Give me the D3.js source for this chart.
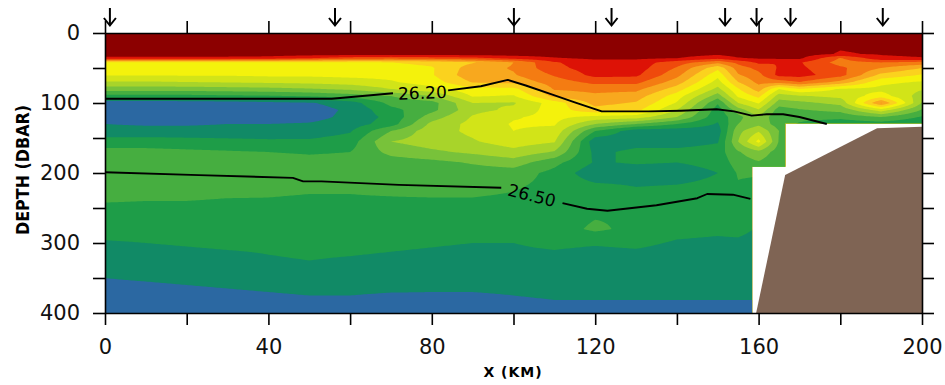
<!DOCTYPE html>
<html><head><meta charset="utf-8">
<script src="https://cdn.jsdelivr.net/npm/d3@7"></script>
<style>body{margin:0;background:#fff;} svg{display:block;}</style>
</head><body><svg id="chart" width="945" height="385"></svg>
<script>
// ---------------- data ----------------
const stationsKm = [0,10,20,30,40,50,60,70,80,90,100,110,120,130,140,150,155,160,165,170,180,190,200];
const depthLevels = [0,30,36,42,50,60,70,80,90,100,110,120,130,140,155,170,185,200,220,240,260,280,300,325,350,375,400];
// colour-class value of each station profile at depthLevels (0 = dark red ... 13 = blue)
const levelProfiles = [
 [0,0,0.8,5.8,6.0,6.4,7.6,9.0,10.8,13.2,13.4,13.3,12.5,12.2,11.0,10.2,10.0,10.0,10.0,10.45,10.9,11.1,11.6,12.0,12.5,12.9,13.1],
 [0,0,0.8,5.8,6.0,6.4,7.6,9.0,10.8,13.2,13.4,13.3,12.6,12.2,11.0,10.2,10.0,10.0,10.0,10.5,10.9,11.1,11.5,12.0,12.4,12.9,13.1],
 [0,0,0.8,5.8,6.0,6.4,7.5,9.0,10.8,13.1,13.4,13.2,12.6,12.2,11.1,10.3,10.0,10.0,10.0,10.5,10.9,11.1,11.4,11.9,12.3,12.8,13.1],
 [0,0,0.8,5.8,6.0,6.4,7.4,8.9,10.7,13.0,13.3,13.1,12.5,12.2,11.2,10.4,10.0,10.0,10.1,10.6,11.0,11.1,11.3,11.8,12.2,12.7,13.0],
 [0,0,0.9,5.8,6.0,6.3,7.3,8.8,10.6,12.8,13.2,13.0,12.5,12.2,11.3,10.5,10.1,10.0,10.2,10.6,11.0,11.1,11.3,11.6,12.1,12.6,13.0],
 [0,0,1.5,5.7,6.0,6.3,7.2,8.6,10.4,12.6,13.0,12.9,12.4,12.1,11.3,10.6,10.2,10.1,10.3,10.7,11.0,11.1,11.2,11.5,12.0,12.5,12.9],
 [0,0,2.0,5.6,6.0,6.2,7.0,8.3,10.0,12.0,12.3,12.2,12.0,11.6,11.0,10.5,10.2,10.2,10.4,10.6,11.0,11.1,11.2,11.6,12.0,12.5,12.9],
 [0,0,2.2,5.5,6.0,6.2,6.6,7.5,9.5,10.2,10.8,11.2,11.0,9.5,8.5,9.2,10.0,10.2,10.3,10.6,11.0,11.1,11.3,11.7,12.0,12.6,12.9],
 [0,0,2.0,5.2,5.6,5.6,6.0,6.8,8.5,9.9,9.8,9.0,8.2,7.9,8.0,8.7,9.8,10.1,10.2,10.6,11.0,11.1,11.4,11.8,12.1,12.6,12.9],
 [0,0,1.8,4.6,4.0,3.8,4.4,5.8,6.4,7.5,7.8,7.4,7.2,7.3,7.6,8.3,9.4,10.0,10.2,10.6,11.0,11.1,11.5,11.9,12.1,12.6,12.9],
 [0,0,1.2,3.5,3.4,3.6,4.2,5.8,6.6,7.6,7.3,6.6,6.4,6.5,7.0,7.8,9.0,10.0,10.4,10.7,11.0,11.1,11.5,11.8,12.1,12.5,12.9],
 [0,0,0.6,1.6,1.8,2.4,3.0,3.4,4.2,6.0,6.0,6.2,6.4,6.8,7.4,8.6,10.2,10.8,10.8,10.9,11.0,11.0,11.3,11.8,12.1,12.4,12.8],
 [0,0,0.3,0.9,1.0,1.2,2.2,3.2,3.7,4.2,4.8,6.8,8.5,10.5,12.2,11.8,11.6,12.2,11.2,10.6,10.6,10.3,11.4,12.0,12.1,12.4,12.8],
 [0,0,0.3,1.0,1.0,1.3,2.2,3.2,4.0,4.6,5.2,7.0,9.5,12.1,12.0,11.2,11.4,12.0,11.5,10.7,10.6,10.8,11.3,11.9,12.2,12.4,12.8],
 [0,0,0.5,2.0,2.6,3.2,4.0,5.0,6.0,6.6,7.5,8.5,10.5,12.1,12.0,11.2,11.5,12.0,11.4,10.8,10.9,11.2,11.6,12.0,12.2,12.4,12.8],
 [0,0.3,1.2,3.2,5.2,6.2,6.9,7.8,9.0,10.4,11.0,11.2,11.6,12.0,11.6,11.0,11.2,11.5,11.2,10.8,11.0,11.3,11.7,12.0,12.2,12.4,12.8],
 [0,0,0.6,2.2,3.0,3.6,4.5,5.6,6.3,7.5,9.0,9.8,9.5,8.8,8.5,9.6,10.0,10.4,10.6,10.6,10.8,11.2,11.7,12.0,12.2,12.4,12.8],
 [0,0,0.4,1.3,2.2,2.8,3.2,4.0,5.2,6.4,7.6,8.6,8.8,7.6,6.2,8.8,9.6,10.4,10.8,11.2,11.4,11.6,11.9,12.0,12.2,12.4,12.8],
 [0,0,0.3,1.5,1.4,1.2,3.0,6.5,8.0,9.0,10.0,10.4,10.0,9.5,9.6,10.0,10.2,10.5,10.8,11.2,11.4,11.6,11.9,12.0,12.2,12.4,12.8],
 [0,0,0.3,1.4,1.3,1.1,2.5,5.5,7.6,8.8,9.6,10.2,10.6,10.4,10.2,10.3,10.5,10.6,10.8,11.2,11.4,11.6,11.9,12.0,12.2,12.4,12.8],
 [0,0.6,2.6,2.9,2.3,2.1,3.8,6.6,7.2,8.2,9.2,10.2,11.2,11.0,10.8,10.8,10.8,10.8,11.0,11.2,11.4,11.6,11.9,12.0,12.2,12.4,12.8],
 [0,0.4,0.8,2.5,3.5,4.8,6.2,6.8,6.0,3.4,7.0,9.5,11.0,11.0,10.8,10.8,10.8,10.8,11.0,11.2,11.4,11.6,11.9,12.0,12.2,12.4,12.8],
 [0,0.2,0.6,2.8,4.5,5.6,6.6,7.4,8.0,8.6,9.6,10.6,11.4,11.0,10.8,10.8,10.8,10.8,11.0,11.2,11.4,11.6,11.9,12.0,12.2,12.4,12.8]
];
const bandColors = ["#8c0000","#dd1206","#ef4a0c","#f47c12","#f8a81e","#fbd21e","#f4f20c",
                    "#d2e418","#a8d42a","#78c23a","#46ae40","#1e9d48","#118a66","#2b68a2"];
// isopycnals (km, dbar), split where the label sits
const iso2620a = [[0,94],[55.5,94],[63,90],[70.5,86]];
const iso2620b = [[84,82],[92,76],[98.6,67],[103,75],[109,87],[115,99],[121.6,112],[133,112],[141,111],[149.7,109],[154,112],[158.3,118],[162,116],[166,116],[170,120],[176.7,130]];
const iso2650a = [[0,199],[23,203],[46,207],[48.5,212],[53,212],[72,217],[97,221]];
const iso2650b = [[112,243],[118,251],[123,254],[129,250],[135,246],[145,236],[147.4,230],[153.7,231],[158,237]];
const isoLabels = [{text:"26.20", km:77.7, dbar:85.5, angle:-2},{text:"26.50", km:104.5, dbar:232, angle:14}];
const stationArrowsKm = [1.2,56.3,100.1,124,151.8,159.5,167.8,190.4];
const bottomOutline = [[159.4,400],[166.5,203],[189,136],[200,134],[200,400]];
const dataDomain = [[0,0],[200,0],[200,129],[166.5,129],[166.5,191],[158.4,191],[158.4,400],[0,400]];
const xTickValues = [0,20,40,60,80,100,120,140,160,180,200];
const xTickLabels = [0,40,80,120,160,200];
const yTickValues = [0,50,100,150,200,250,300,350,400];
const yTickLabels = [0,100,200,300,400];

// ---------------- drawing ----------------
const svg = d3.select("#chart");
const x = d3.scaleLinear().domain([0,200]).range([105,922]);
const y = d3.scaleLinear().domain([0,400]).range([33,313]);

const nx = 401, ny = 401;
function locate(arr, v){
  let i = d3.bisectRight(arr, v) - 1;
  i = Math.max(0, Math.min(arr.length-2, i));
  return [i, (v-arr[i])/(arr[i+1]-arr[i])];
}
const values = new Float64Array(nx*ny);
for (let j=0;j<ny;j++){
  const d = 400*j/(ny-1);
  const [dj, dt] = locate(depthLevels, d);
  for (let i=0;i<nx;i++){
    const k = 200*i/(nx-1);
    const [si, st] = locate(stationsKm, k);
    const P = levelProfiles;
    values[j*nx+i] = (1-st)*(1-dt)*P[si][dj] + st*(1-dt)*P[si+1][dj]
                   + (1-st)*dt*P[si][dj+1] + st*dt*P[si+1][dj+1];
  }
}
const thresholds = d3.range(0.5, bandColors.length-1, 1);
const contours = d3.contours().size([nx,ny]).thresholds(thresholds)(values);
const gx = d3.scaleLinear().domain([0.5, nx-0.5]).range([x(0), x(200)]);
const gy = d3.scaleLinear().domain([0.5, ny-0.5]).range([y(0), y(400)]);
const path = d3.geoPath(d3.geoTransform({point(px,py){ this.stream.point(gx(px), gy(py)); }}));

const poly = d3.line().x(d=>x(d[0])).y(d=>y(d[1]));
svg.append("defs").append("clipPath").attr("id","dataClip")
  .append("path").attr("d", poly(dataDomain)+"Z");

const field = svg.append("g").attr("clip-path","url(#dataClip)");
field.append("rect").attr("x",x(0)).attr("y",y(0)).attr("width",x(200)-x(0)).attr("height",y(400)-y(0))
  .attr("fill", bandColors[0]);
field.selectAll("path.band").data(contours).join("path").attr("class","band")
  .attr("d", path).attr("fill",(d,i)=>bandColors[i+1]);

svg.append("path").attr("d", poly(bottomOutline)+"Z").attr("fill","#7f6454");

const lineGen = d3.line().x(d=>x(d[0])).y(d=>y(d[1]));
svg.selectAll("path.iso").data([iso2620a,iso2620b,iso2650a,iso2650b]).join("path").attr("class","iso")
  .attr("d", lineGen).attr("fill","none").attr("stroke","#000").attr("stroke-width",1.9)
  .attr("stroke-linejoin","round");
svg.selectAll("text.isolab").data(isoLabels).join("text").attr("class","isolab")
  .attr("transform", d=>`translate(${x(d.km)},${y(d.dbar)}) rotate(${d.angle})`)
  .attr("text-anchor","middle").attr("dominant-baseline","central")
  .attr("font-family","DejaVu Sans").attr("font-size",17).attr("fill","#000").text(d=>d.text);

function styleAxis(g){
  g.select(".domain").attr("stroke","#000").attr("stroke-width",1.6);
  g.selectAll(".tick line").attr("stroke","#000").attr("stroke-width",1.6);
  g.selectAll(".tick text").attr("font-family","DejaVu Sans").attr("font-size",21).attr("fill","#111");
}
svg.append("g").attr("transform",`translate(${x(0)},0)`)
  .call(d3.axisLeft(y).tickValues(yTickValues).tickSize(12).tickSizeOuter(0).tickPadding(13)
    .tickFormat(d=>yTickLabels.includes(d)?d:"")).call(styleAxis);
svg.append("g").attr("transform",`translate(${x(200)},0)`)
  .call(d3.axisRight(y).tickValues(yTickValues).tickSize(12).tickSizeOuter(0).tickFormat("")).call(styleAxis);
svg.append("g").attr("transform",`translate(0,${y(400)})`)
  .call(d3.axisBottom(x).tickValues(xTickValues).tickSize(12).tickSizeOuter(0).tickPadding(14)
    .tickFormat(d=>xTickLabels.includes(d)?d:"")).call(styleAxis);
svg.append("g").attr("transform",`translate(0,${y(0)})`)
  .call(d3.axisTop(x).tickValues(xTickValues).tickSize(12).tickSizeOuter(0).tickFormat("")).call(styleAxis);

const arrows = svg.selectAll("g.arrow").data(stationArrowsKm).join("g").attr("class","arrow")
  .attr("transform", d=>`translate(${x(d)},0)`);
arrows.append("line").attr("x1",0).attr("x2",0).attr("y1",8).attr("y2",25).attr("stroke","#000").attr("stroke-width",2);
arrows.append("path").attr("d","M-6,18L0,25.5L6,18").attr("fill","none").attr("stroke","#000").attr("stroke-width",2);

svg.append("text").attr("x",513).attr("y",377).attr("text-anchor","middle")
  .attr("font-family","DejaVu Sans").attr("font-weight","bold").attr("font-size",14)
  .attr("letter-spacing",1).text("X (KM)");
svg.append("text").attr("transform","translate(29,170) rotate(-90)").attr("text-anchor","middle")
  .attr("font-family","DejaVu Sans").attr("font-weight","bold").attr("font-size",17)
  .attr("textLength",130).attr("lengthAdjust","spacingAndGlyphs").text("DEPTH (DBAR)");
</script></body></html>
